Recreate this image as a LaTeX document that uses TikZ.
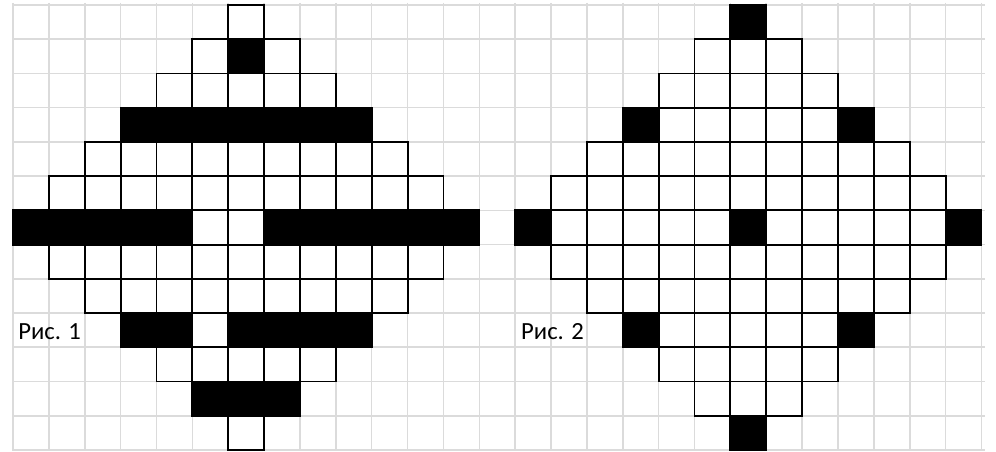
\documentclass[tikz,border=0pt]{standalone}
\usepackage{fontspec}
\setmainfont{Carlito}
\begin{document}
\begin{tikzpicture}[x=26.9pt, y=-25.67pt,
  gridline/.style={draw=gray!28, line width=1.2pt},
  cell/.style={draw=black, line width=1.4pt, fill=white},
  dark/.style={draw=black, line width=1.4pt, fill=black},
  caption/.style={font=\fontsize{18.5}{20}\selectfont, anchor=base west, inner sep=0pt}]

  % Whole sheet, margins included
  \useasboundingbox (-0.3624,-0.146) rectangle (27.405,13.03);

  % Light sheet grid
  \foreach \k in {0,...,13}
    \draw[gridline] (0,\k) -- (27.1,\k);
  \foreach \k in {0,...,27}
    \draw[gridline] (\k,-0.06) -- (\k,13.03);

  % Two diamonds of cells, centred on columns 6 and 20, row 6
  \foreach \mid in {6,20} {
    \foreach \r in {0,...,12} {
      \pgfmathtruncatemacro\lo{\mid-6+abs(\r-6)}
      \pgfmathtruncatemacro\hi{\mid+6-abs(\r-6)}
      \foreach \c in {\lo,...,\hi}
        \draw[cell] (\c,\r) rectangle ++(1,1);
    }
  }

  % Fig. 1: dark strips
  \draw[dark] (6,1) rectangle (7,2);
  \draw[dark] (3,3) rectangle (10,4);
  \draw[dark] (0,6) rectangle (5,7);
  \draw[dark] (7,6) rectangle (13,7);
  \draw[dark] (3,9) rectangle (5,10);
  \draw[dark] (6,9) rectangle (10,10);
  \draw[dark] (5,11) rectangle (8,12);

  % Fig. 2: dark single cells
  \foreach \c/\r in {20/0, 17/3, 23/3, 14/6, 20/6, 26/6, 17/9, 23/9, 20/12}
    \draw[dark] (\c,\r) rectangle ++(1,1);

  % Captions
  \node[caption] (cap1) at (0.14,9.76) {Рис. 1};
  \node[caption] (cap2) at (14.16,9.76) {Рис. 2};

\end{tikzpicture}
\end{document}
